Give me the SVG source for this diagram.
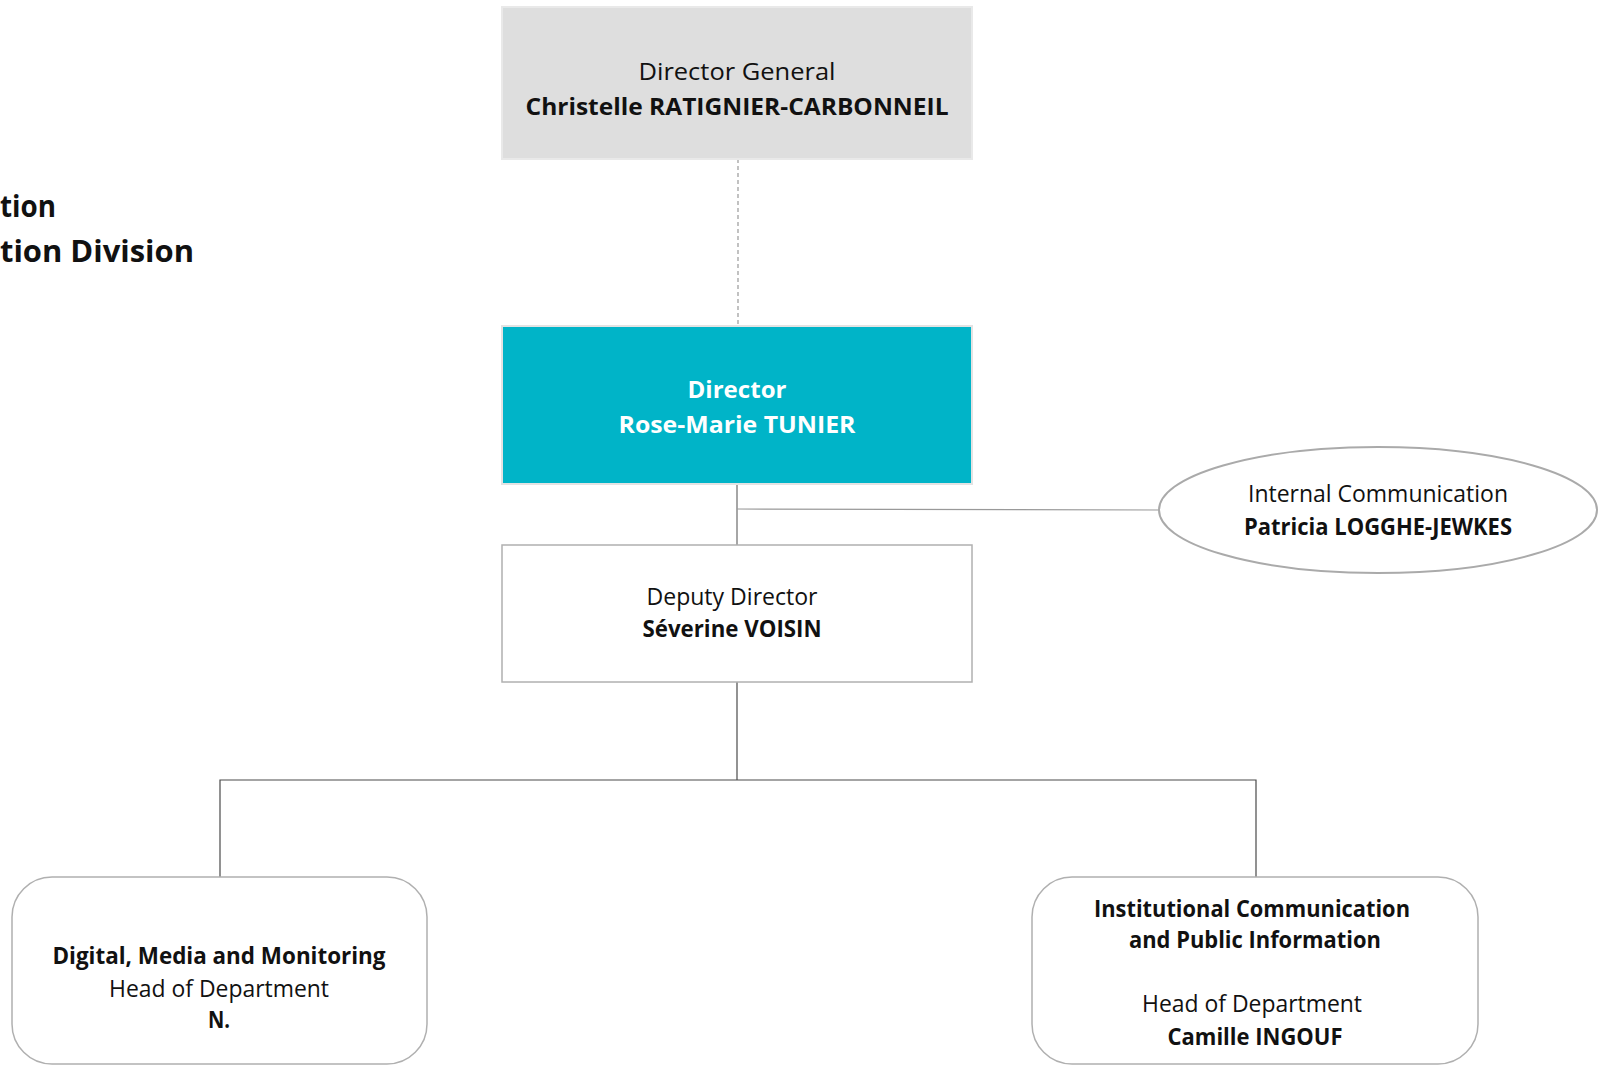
<svg xmlns="http://www.w3.org/2000/svg" width="1603" height="1066" viewBox="0 0 1603 1066">
<style>
text{font-family:"Open Sans","Noto Sans","Liberation Sans",sans-serif;font-size:24px;fill:#111;text-anchor:middle}
.b{font-weight:bold}
.w{fill:#fff}
.t{font-size:30px;font-weight:bold;text-anchor:end}
.conn{fill:none;stroke:#4a4a4a;stroke-width:1.2}
.box{stroke:#b0b0b0;stroke-width:1.5;fill:#fff}
</style>
<rect width="1603" height="1066" fill="#fff"/>
<g id="title">
<text class="t" x="56" y="217" textLength="56" lengthAdjust="spacingAndGlyphs">tion</text>
<text class="t" x="194" y="262" textLength="194" lengthAdjust="spacingAndGlyphs">tion Division</text>
</g>
<g id="connectors">
<line x1="738" y1="159" x2="738" y2="326" stroke="#999" stroke-width="1.2" stroke-dasharray="4,3"/>
<line x1="737" y1="484" x2="737" y2="545" stroke="#888" stroke-width="1.5"/>
<line x1="737" y1="509" x2="1160" y2="510" stroke="#999" stroke-width="1.2"/>
<polyline class="conn" points="737,682 737,780"/>
<polyline class="conn" points="220,877 220,780 1256,780 1256,877"/>
</g>
<g id="director-general">
<rect x="502" y="7" width="470" height="152" fill="#dedede" stroke="#e9e9e9" stroke-width="2"/>
<text x="737" y="80" textLength="197" lengthAdjust="spacingAndGlyphs">Director General</text>
<text class="b" x="737" y="115" textLength="423" lengthAdjust="spacingAndGlyphs">Christelle RATIGNIER-CARBONNEIL</text>
</g>
<g id="director">
<rect x="502" y="326" width="470" height="158" fill="#00b4c8" stroke="#e3e3e3" stroke-width="2"/>
<text class="b w" x="737" y="398" textLength="99" lengthAdjust="spacingAndGlyphs">Director</text>
<text class="b w" x="737" y="433" textLength="237" lengthAdjust="spacingAndGlyphs">Rose-Marie TUNIER</text>
</g>
<g id="internal-communication">
<ellipse cx="1378" cy="510" rx="219" ry="63" fill="#fff" stroke="#aaa" stroke-width="2"/>
<text x="1378" y="502" textLength="260" lengthAdjust="spacingAndGlyphs">Internal Communication</text>
<text class="b" x="1378" y="535" textLength="268" lengthAdjust="spacingAndGlyphs">Patricia LOGGHE-JEWKES</text>
</g>
<g id="deputy-director">
<rect class="box" x="502" y="545" width="470" height="137"/>
<text x="732" y="605" textLength="171" lengthAdjust="spacingAndGlyphs">Deputy Director</text>
<text class="b" x="732" y="637" textLength="179" lengthAdjust="spacingAndGlyphs">Séverine VOISIN</text>
</g>
<g id="digital-media">
<rect class="box" x="12" y="877" width="415" height="187" rx="40" ry="40"/>
<text class="b" x="219" y="964" textLength="333" lengthAdjust="spacingAndGlyphs">Digital, Media and Monitoring</text>
<text x="219" y="997" textLength="220" lengthAdjust="spacingAndGlyphs">Head of Department</text>
<text class="b" x="219" y="1028" textLength="22" lengthAdjust="spacingAndGlyphs">N.</text>
</g>
<g id="institutional-communication">
<rect class="box" x="1032" y="877" width="446" height="187" rx="40" ry="40"/>
<text class="b" x="1252" y="917" textLength="316" lengthAdjust="spacingAndGlyphs">Institutional Communication</text>
<text class="b" x="1255" y="948" textLength="252" lengthAdjust="spacingAndGlyphs">and Public Information</text>
<text x="1252" y="1012" textLength="220" lengthAdjust="spacingAndGlyphs">Head of Department</text>
<text class="b" x="1255" y="1045" textLength="175" lengthAdjust="spacingAndGlyphs">Camille INGOUF</text>
</g>
</svg>
